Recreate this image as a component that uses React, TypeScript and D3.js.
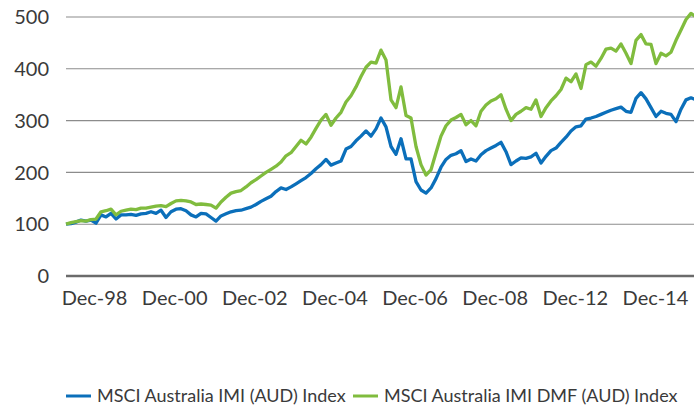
import React from "react";
import * as d3 from "d3";

const seriesNames = ["MSCI Australia IMI (AUD) Index", "MSCI Australia IMI DMF (AUD) Index"];
const seriesColors = ["#0b6fba", "#80bc3e"];

const imiValues = [
  100, 101, 104, 108, 106, 108, 102, 118, 114, 121, 110, 118, 118, 119, 117, 120, 121, 124, 121, 127,
  113, 124, 129, 130, 126, 118, 114, 121, 120, 113, 106, 116, 120, 124, 126, 127, 130, 133, 138, 144,
  149, 154, 163, 170, 167, 172, 178, 184, 190, 198, 207, 215, 225, 214, 218, 222, 245, 250, 261, 270,
  280, 270, 284, 305, 288, 250, 235, 265, 226, 226, 182, 166, 160, 170, 188, 210, 225, 233, 236, 242,
  221, 226, 222, 234, 242, 247, 252, 258, 240, 215, 222, 228, 227, 230, 237, 218, 231, 242, 247, 258,
  268, 280, 288, 290, 303, 305, 308, 312, 316, 320, 323, 326, 318, 316, 343, 354, 342, 325, 308, 318,
  314, 312, 298, 322, 340, 344, 340,
];

const dmfValues = [
  100, 103, 105, 107, 106, 109, 110, 124, 126, 129, 118, 125, 127, 129, 128, 131, 131, 133, 135, 136,
  134, 140, 145, 146, 145, 143, 138, 139, 138, 137, 131, 143, 152, 160, 163, 165, 172, 180, 186, 193,
  200, 206, 212, 220, 232, 238, 250, 262, 255, 268, 285, 301, 312, 291, 305, 316, 336, 348, 365, 385,
  403, 413, 411, 436, 417, 340, 325, 365, 310, 305, 250, 215, 195, 205, 238, 270, 290, 301, 306, 312,
  292, 300, 290, 318, 330, 338, 342, 350, 322, 300, 312, 318, 325, 322, 340, 308, 325, 338, 348, 360,
  382, 375, 390, 362, 408, 413, 405, 420, 438, 440, 434, 448, 430, 410, 455, 466, 448, 447, 410, 430,
  425, 432, 455, 475, 495, 507, 500,
];

const yTicks = [0, 100, 200, 300, 400, 500];
const xTickLabels = ["Dec-98", "Dec-00", "Dec-02", "Dec-04", "Dec-06", "Dec-08", "Dec-12", "Dec-14"];

const W = 694;
const H = 405;
const FONT = "Lato, 'Open Sans', sans-serif";

export default function App() {
  const x = d3.scaleLinear().domain([0, imiValues.length - 1]).range([66, 696]);
  const y = d3.scaleLinear().domain([0, 500]).range([276, 17]);
  const xLabels = d3.scaleBand().domain(xTickLabels).range([54.5, 695.5]);

  const line = d3
    .line<number>()
    .x((_, i) => x(i))
    .y((d) => y(d));

  const series = [imiValues, dmfValues];

  return (
    <svg
      width={W}
      height={H}
      style={{ position: "absolute", left: 0, top: 0, background: "#fff" }}
      fontFamily={FONT}
    >
      <defs>
        <clipPath id="plotclip">
          <rect x={0} y={0} width={W} height={H} />
        </clipPath>
      </defs>
      {yTicks.map((t) => (
        <g key={t}>
          <line
            x1={66}
            x2={W}
            y1={y(t)}
            y2={y(t)}
            stroke={t === 0 ? "#6b6b6b" : "#8c8c8c"}
            strokeWidth={t === 0 ? 2.6 : 1.1}
          />
          <text
            x={49}
            y={y(t)}
            dy="0.36em"
            textAnchor="end"
            fontSize={20}
            fill="#3a3a3a"
          >
            {t}
          </text>
        </g>
      ))}
      {xTickLabels.map((l) => (
        <text
          key={l}
          x={(xLabels(l) as number) + xLabels.bandwidth() / 2}
          y={305}
          textAnchor="middle"
          fontSize={20}
          fill="#3a3a3a"
        >
          {l}
        </text>
      ))}
      <g clipPath="url(#plotclip)">
        {series.map((s, k) => (
          <path
            key={k}
            d={line(s) || ""}
            fill="none"
            stroke={seriesColors[k]}
            strokeWidth={3.3}
            strokeLinejoin="round"
          />
        ))}
      </g>
      {seriesNames.map((n, k) => {
        const lx = k === 0 ? 66 : 353;
        return (
          <g key={n}>
            <line x1={lx} x2={lx + 25} y1={396} y2={396} stroke={seriesColors[k]} strokeWidth={3} />
            <text x={lx + 31} y={396} dy="0.36em" fontSize={18} fill="#3a3a3a">
              {n}
            </text>
          </g>
        );
      })}
    </svg>
  );
}
